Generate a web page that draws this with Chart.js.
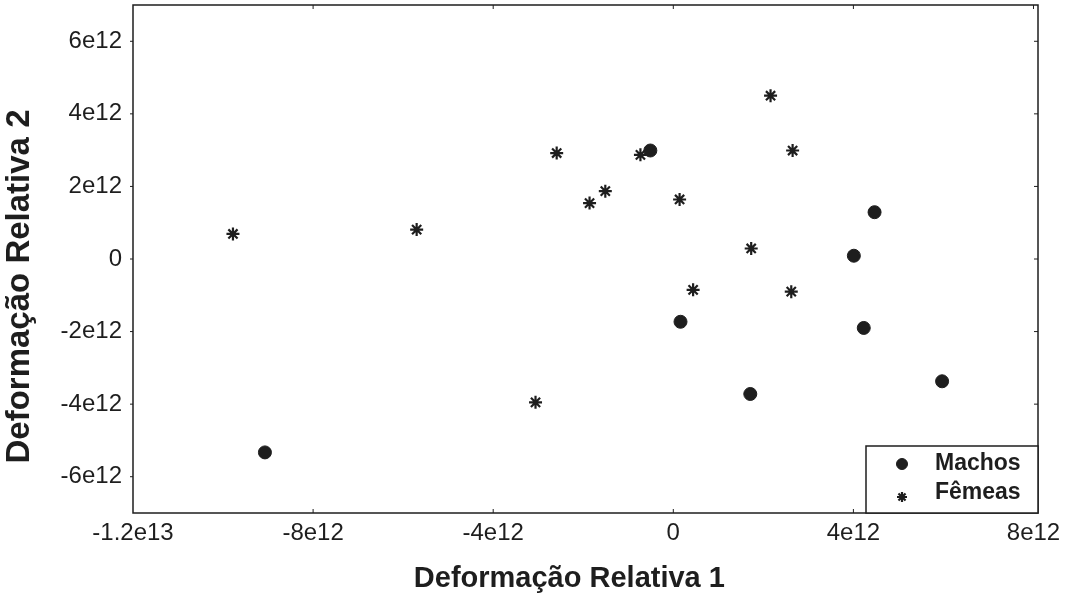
<!DOCTYPE html>
<html>
<head>
<meta charset="utf-8">
<script src="https://cdn.jsdelivr.net/npm/chart.js@4.4.1/dist/chart.umd.min.js"></script>
<style>
  body { margin: 0; background: #fff; }
</style>
</head>
<body>
<canvas id="scatterChart" width="1082" height="598"></canvas>
<script>
// Machos (circles)
const maleX = [-0.51e12, 4.47e12, 4.01e12, 0.16e12, 4.23e12, 5.97e12, 1.71e12, -9.07e12];
const maleY = [2.99e12, 1.29e12, 0.09e12, -1.73e12, -1.90e12, -3.37e12, -3.72e12, -5.33e12];

// Fêmeas (asterisks)
const femaleX = [-9.78e12, -5.70e12, -3.06e12, -2.59e12, -0.73e12, 2.16e12, 2.65e12,
                 -1.51e12, -1.86e12, 0.14e12, 1.73e12, 0.44e12, 2.62e12];
const femaleY = [0.69e12, 0.81e12, -3.95e12, 2.92e12, 2.87e12, 4.50e12, 2.99e12,
                 1.87e12, 1.54e12, 1.64e12, 0.29e12, -0.85e12, -0.90e12];

const xTicks = [-1.2e13, -8e12, -4e12, 0, 4e12, 8e12];
const xTickLabels = ['-1.2e13', '-8e12', '-4e12', '0', '4e12', '8e12'];
const yTicks = [-6e12, -4e12, -2e12, 0, 2e12, 4e12, 6e12];
const yTickLabels = ['-6e12', '-4e12', '-2e12', '0', '2e12', '4e12', '6e12'];

const ink = '#1e1e1e';
const fontFamily = "'Liberation Sans', Arial, sans-serif";

const toPoints = (xs, ys) => xs.map((x, i) => ({ x: x, y: ys[i] }));

// frame around the plot with small inward tick marks
const framePlugin = {
    id: 'frame',
    afterDatasetsDraw(chart) {
        const { ctx, chartArea: a, scales } = chart;
        ctx.save();
        ctx.strokeStyle = ink;
        ctx.lineWidth = 1.5;
        ctx.strokeRect(a.left, a.top, a.right - a.left, a.bottom - a.top);
        ctx.lineWidth = 1;
        ctx.beginPath();
        xTicks.forEach(v => {
            const px = scales.x.getPixelForValue(v);
            if (px <= a.left + 1 || px >= a.right - 1) return;
            ctx.moveTo(px, a.bottom); ctx.lineTo(px, a.bottom - 4);
            ctx.moveTo(px, a.top); ctx.lineTo(px, a.top + 4);
        });
        yTicks.forEach(v => {
            const py = scales.y.getPixelForValue(v);
            if (py <= a.top + 1 || py >= a.bottom - 1) return;
            ctx.moveTo(a.left, py); ctx.lineTo(a.left - 3, py);
            ctx.moveTo(a.right, py); ctx.lineTo(a.right - 4, py);
        });
        ctx.stroke();
        ctx.restore();
    }
};

// legend box in the lower right corner of the plot
const boxLegendPlugin = {
    id: 'boxLegend',
    afterDatasetsDraw(chart) {
        const { ctx, chartArea: a } = chart;
        const w = 172, h = 67;
        const left = a.right - w, top = a.bottom - h;
        ctx.save();
        ctx.fillStyle = '#fff';
        ctx.fillRect(left, top, w, h);
        ctx.strokeStyle = ink;
        ctx.lineWidth = 1.5;
        ctx.strokeRect(left, top, w, h);

        const rows = [18, 47];
        chart.data.datasets.forEach((ds, i) => {
            const cy = top + rows[i];
            const style = {
                pointStyle: ds.pointStyle,
                radius: ds.pointStyle === 'star' ? 5 : 5.5,
                borderWidth: ds.borderWidth,
                rotation: 0
            };
            ctx.fillStyle = ds.backgroundColor;
            ctx.strokeStyle = ds.borderColor;
            ctx.lineWidth = ds.borderWidth;
            Chart.helpers.drawPoint(ctx, style, left + 36, cy + (i === 1 ? 4 : 0));
            ctx.fillStyle = ink;
            ctx.font = 'bold 23px ' + fontFamily;
            ctx.textBaseline = 'middle';
            ctx.textAlign = 'left';
            ctx.fillText(ds.label, left + 69, cy);
        });
        ctx.restore();
    }
};

new Chart(document.getElementById('scatterChart'), {
    type: 'scatter',
    data: {
        datasets: [{
            label: 'Machos',
            data: toPoints(maleX, maleY),
            pointStyle: 'circle',
            pointRadius: 6.5,
            backgroundColor: ink,
            borderColor: ink,
            borderWidth: 1
        }, {
            label: 'Fêmeas',
            data: toPoints(femaleX, femaleY),
            pointStyle: 'star',
            pointRadius: 6.5,
            backgroundColor: ink,
            borderColor: ink,
            borderWidth: 2.2
        }]
    },
    options: {
        responsive: false,
        animation: false,
        layout: { autoPadding: false, padding: { top: 5, right: 44, left: 0, bottom: 0 } },
        plugins: {
            legend: { display: false },
            tooltip: { enabled: false }
        },
        scales: {
            x: {
                type: 'linear',
                min: -1.2e13,
                max: 8.1e12,
                grid: { display: false, drawTicks: false },
                border: { display: false },
                afterBuildTicks: axis => { axis.ticks = xTicks.map(v => ({ value: v })); },
                afterFit: axis => { axis.height = 85; },
                ticks: {
                    padding: 6,
                    maxRotation: 0,
                    color: ink,
                    font: { family: fontFamily, size: 24 },
                    callback: (value, index) => xTickLabels[index]
                },
                title: {
                    display: true,
                    text: 'Deformação Relativa 1    ',
                    color: ink,
                    font: { family: fontFamily, size: 29, weight: 'bold' },
                    padding: { top: 0, bottom: 2 }
                }
            },
            y: {
                type: 'linear',
                min: -7e12,
                max: 7e12,
                grid: { display: false, drawTicks: false },
                border: { display: false },
                afterBuildTicks: axis => { axis.ticks = yTicks.map(v => ({ value: v })); },
                afterFit: axis => {
                    axis.width = 133;
                    axis.paddingTop = 0;
                    axis.paddingBottom = 0;
                },
                ticks: {
                    padding: 11,
                    color: ink,
                    font: { family: fontFamily, size: 24 },
                    callback: (value, index) => yTickLabels[index]
                },
                title: {
                    display: true,
                    text: 'Deformação Relativa 2      ',
                    color: ink,
                    font: { family: fontFamily, size: 33, weight: 'bold' },
                    padding: { top: 0, bottom: 0 }
                }
            }
        }
    },
    plugins: [framePlugin, boxLegendPlugin]
});
</script>
</body>
</html>
